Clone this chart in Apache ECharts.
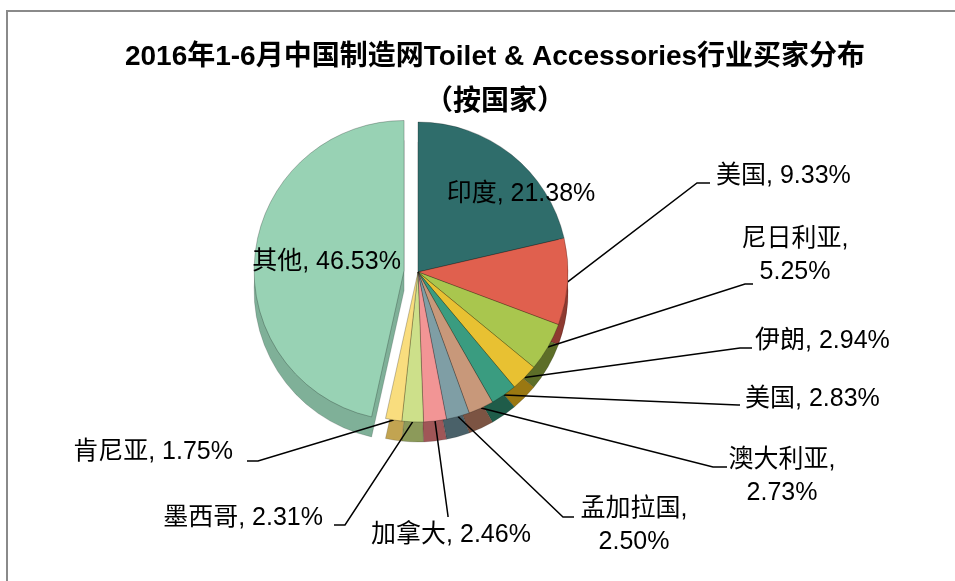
<!DOCTYPE html>
<html>
<head>
<meta charset="utf-8">
<script src="https://cdn.jsdelivr.net/npm/echarts@6/dist/echarts.min.js"></script>
<style>
  html, body { margin: 0; padding: 0; background: #fff; }
  #frame { position: absolute; left: 6px; top: 10px; width: 1000px; height: 700px;
           border-left: 2px solid #8a8a8a; border-top: 2px solid #8a8a8a; }
  #main { position: absolute; left: 0; top: 0; width: 955px; height: 581px; }
</style>
</head>
<body>
<div id="frame"></div>
<div id="main"></div>
<script>
// ---- data ----
const categories = ['印度', '美国', '尼日利亚', '伊朗', '美国', '澳大利亚', '孟加拉国', '加拿大', '墨西哥', '肯尼亚', '其他'];
const shares = [21.38, 9.33, 5.25, 2.94, 2.83, 2.73, 2.50, 2.46, 2.31, 1.75, 46.53];
const titleLines = ['2016年1-6月中国制造网Toilet & Accessories行业买家分布', '（按国家）'];
const explodedName = '其他';

// ---- styles ----
const topColors  = ['#2f6d6b', '#e0604e', '#a9c64e', '#e8c132', '#3a9c80', '#c8987a', '#7f9ea5', '#f29595', '#cde08a', '#f9dd7e', '#98d2b4'];
const sideColors = ['#1e4745', '#8e3a30', '#5d6e28', '#9a7812', '#1f5c49', '#7c5443', '#4a6169', '#a05657', '#8c9a5a', '#c2a451', '#7fb098'];
const FONT = "'Liberation Sans', 'Noto Sans CJK SC', sans-serif";
const CENTER = [418, 272];
const DEPTH = 20;
const RADIUS = 150;

// label anchors (annotation layout only)
const LABEL_LAYOUT = [
  { x: 521, y: 194, align: 'center' },
  { x: 716, y: 176, align: 'left',   elbow: [697, 183], end: [710, 183] },
  { x: 795, y: 256, align: 'center', elbow: [745, 284], end: [753, 284] },
  { x: 755, y: 341, align: 'left',   elbow: [740, 348], end: [752, 348] },
  { x: 745, y: 399, align: 'left',   elbow: [738, 405], end: [740, 405] },
  { x: 782, y: 477, align: 'center', elbow: [713, 467], end: [727, 467] },
  { x: 634, y: 526, align: 'center', elbow: [563, 517], end: [574, 517] },
  { x: 451, y: 535, align: 'center', elbow: [448, 516], end: [448, 517] },
  { x: 323, y: 518, align: 'right',  elbow: [345, 525], end: [334, 525] },
  { x: 233, y: 452, align: 'right',  elbow: [258, 461], end: [247, 461] },
  { x: 292, y: 256, align: 'center' }
];

function makeData(colors, border) {
  return categories.map((name, i) => ({
    name: name,
    value: shares[i],
    selected: name === explodedName,
    itemStyle: { color: colors[i], borderWidth: 0.8, borderColor: border },
    select: { itemStyle: { color: colors[i], borderWidth: 0.8, borderColor: border } }
  }));
}

const chart = echarts.init(document.getElementById('main'), null, { renderer: 'canvas' });

const option = {
  animation: false,
  graphic: [
    { type: 'text', x: 495, y: 57, style: { text: titleLines[0], font: 'bold 28px ' + FONT, fill: '#000', textAlign: 'center', textVerticalAlign: 'middle' } },
    { type: 'text', x: 495, y: 102, style: { text: titleLines[1], font: 'bold 28px ' + FONT, fill: '#000', textAlign: 'center', textVerticalAlign: 'middle' } }
  ],
  series: [
    {
      type: 'pie',
      z: 1,
      silent: true,
      center: [CENTER[0], CENTER[1] + DEPTH],
      radius: RADIUS,
      startAngle: 90,
      clockwise: true,
      selectedMode: 'single',
      selectedOffset: 14,
      label: { show: false },
      labelLine: { show: false },
      data: makeData(sideColors, 'rgba(0,0,0,0.2)')
    },
    {
      type: 'pie',
      z: 2,
      silent: true,
      center: CENTER,
      radius: RADIUS,
      startAngle: 90,
      clockwise: true,
      selectedMode: 'single',
      selectedOffset: 14,
      label: {
        show: true,
        fontFamily: FONT,
        fontSize: 25,
        color: '#000',
        lineHeight: 33,
        formatter: function (p) {
          const sep = p.name.length >= 4 ? ',\n' : ', ';
          return p.name + sep + p.value.toFixed(2) + '%';
        }
      },
      labelLine: { show: true, length: 20, length2: 10, lineStyle: { color: '#000', width: 1.5 } },
      labelLayout: function (params) {
        const p = LABEL_LAYOUT[params.dataIndex];
        const res = { x: p.x, y: p.y, align: p.align, verticalAlign: 'middle' };
        if (p.end && params.labelLinePoints) {
          res.labelLinePoints = [params.labelLinePoints[0], p.elbow, p.end];
        }
        return res;
      },
      data: makeData(topColors, 'rgba(0,0,0,0.3)').map((d, i) => {
        if (i === 0 || d.name === explodedName) {
          d.label = { position: 'inside' };
          d.labelLine = { show: false };
        }
        return d;
      })
    }
  ]
};
chart.setOption(option);
</script>
</body>
</html>
